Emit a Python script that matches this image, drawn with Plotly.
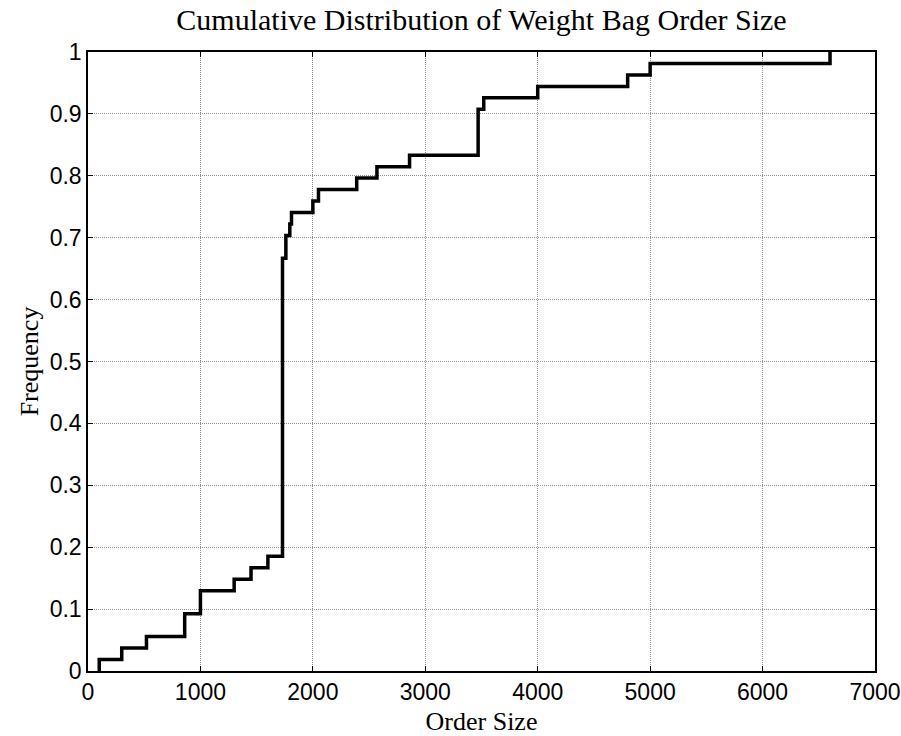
import numpy as np
import plotly.graph_objects as go

# Distinct order sizes (sorted) and how many orders had each size (n = 54)
order_sizes = [100, 300, 520, 860, 1000, 1300, 1450, 1600, 1730, 1760, 1795,
               1810, 2000, 2050, 2390, 2570, 2860, 3470, 3520, 4000, 4800,
               5000, 6600]
order_counts = [1, 1, 1, 2, 2, 1, 1, 1, 26, 2, 1,
                1, 1, 1, 1, 1, 1, 4, 1, 1, 1,
                1, 1]

x_ticks = [0, 1000, 2000, 3000, 4000, 5000, 6000, 7000]
y_ticks = [0, 0.1, 0.2, 0.3, 0.4, 0.5, 0.6, 0.7, 0.8, 0.9, 1]

title_text = "Cumulative Distribution of Weight Bag Order Size"
x_label = "Order Size"
y_label = "Frequency"

cum = np.cumsum(order_counts) / np.sum(order_counts)
xs = [order_sizes[0]] + list(order_sizes)
ys = [0.0] + list(cum)

fig = go.Figure()
fig.add_trace(go.Scatter(
    x=xs, y=ys, mode="lines", line=dict(color="black", width=3.5, shape="hv"),
    showlegend=False, hoverinfo="x+y"))

serif = "Liberation Serif, Times New Roman, serif"
sans = "Liberation Sans, Arial, sans-serif"

axis_common = dict(
    showline=True, linecolor="black", linewidth=1.5, mirror="allticks",
    ticks="inside", ticklen=5, tickcolor="black", tickwidth=1.2,
    showgrid=True, gridcolor="#8c8c8c", gridwidth=1, griddash="1px,1px",
    zeroline=False, automargin=False,
    tickfont=dict(family=sans, size=23, color="black"),
)

fig.update_layout(
    width=901, height=736,
    margin=dict(l=88, r=26, t=52, b=65),
    paper_bgcolor="white", plot_bgcolor="white",
    title=dict(text=title_text, x=0.5, xref="paper", y=1 - 19 / 736,
               yref="container", xanchor="center", yanchor="middle",
               font=dict(family=serif, size=30, color="black")),
    xaxis=dict(range=[0, 7000], tickvals=x_ticks, tickformat="d",
               title=dict(text=x_label, standoff=8,
                          font=dict(family=serif, size=26, color="black")),
               **axis_common),
    yaxis=dict(range=[0, 1], tickvals=y_ticks,
               ticktext=[f"{v:g}" for v in y_ticks],
               title=dict(text=y_label, standoff=4,
                          font=dict(family=serif, size=26, color="black")),
               **axis_common),
)

fig.write_html("out.html")
